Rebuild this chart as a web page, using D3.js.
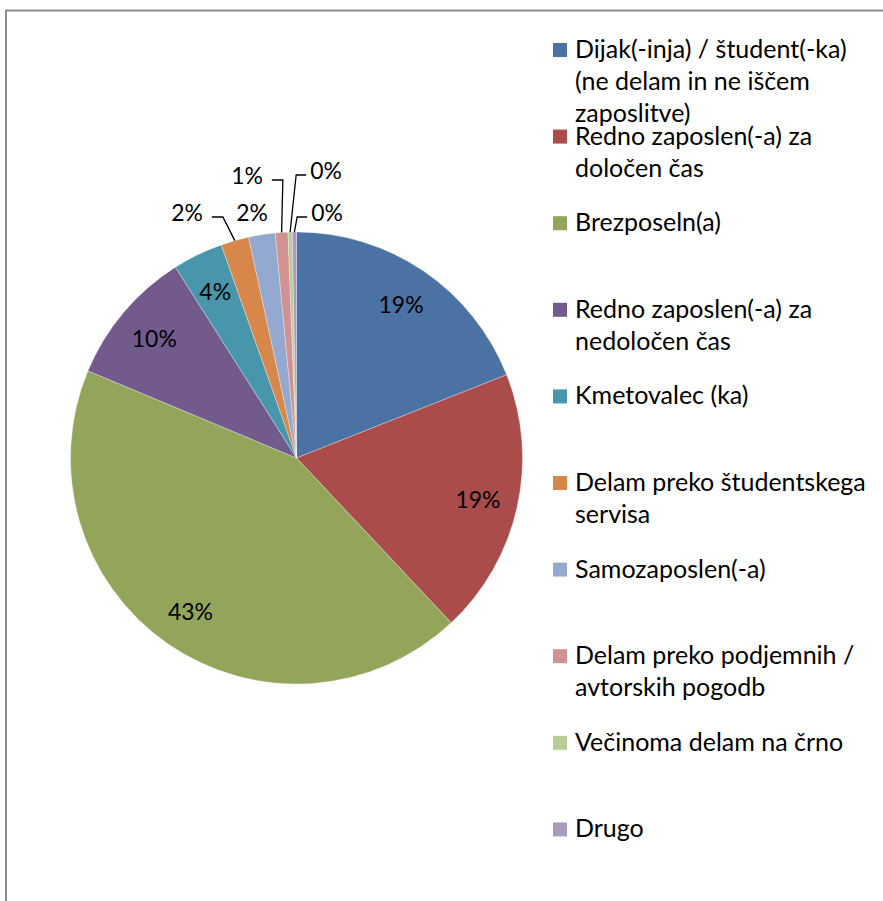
<!DOCTYPE html>
<html>
<head>
<meta charset="utf-8">
<script src="https://cdn.jsdelivr.net/npm/d3@7"></script>
<style>
  html, body { margin: 0; padding: 0; background: #fff; }
  svg { display: block; }
  text { font-family: Lato, "Open Sans", sans-serif; fill: #000; }
</style>
</head>
<body>
<svg id="chart" width="883" height="901"></svg>
<script>
// ---- data ----
const categories = [
  "Dijak(-inja) / študent(-ka) (ne delam in ne iščem zaposlitve)",
  "Redno zaposlen(-a) za določen čas",
  "Brezposeln(a)",
  "Redno zaposlen(-a) za nedoločen čas",
  "Kmetovalec (ka)",
  "Delam preko študentskega servisa",
  "Samozaposlen(-a)",
  "Delam preko podjemnih / avtorskih pogodb",
  "Večinoma delam na črno",
  "Drugo"
];
const values = [19.0, 19.0, 43.3, 9.7, 3.6, 2.0, 1.9, 0.9, 0.3, 0.3];
const colors = ["#4a72a4", "#a94c4a", "#93a55b", "#725a8d", "#4896ab",
                "#d7874a", "#93a9cf", "#d09392", "#b9cd96", "#a99bbd"];

// ---- layout ----
const W = 883, H = 901;
const cx = 296.5, cy = 458, R = 226;
const insideLabelR = 186;
// outside labels (small slices): index -> label centre, leader side
const outsideLabels = {
  5: {x: 187, y: 212, leader: "right"},
  6: {x: 252, y: 212, leader: null},
  7: {x: 247, y: 175, leader: "right"},
  8: {x: 326, y: 170, leader: "left"},
  9: {x: 327, y: 212, leader: "left"}
};
const legendX = 553, legendTop = 58, legendStep = 86.6, legendLine = 32;

const svg = d3.select("#chart");

// fit font size by width of a reference string
function fitSize(str, targetWidth) {
  const t = svg.append("text").attr("font-size", 100).text(str);
  const w = t.node().getComputedTextLength();
  t.remove();
  return 100 * targetWidth / w;
}
const legendFont = fitSize("Brezposeln(a)", 146);
const labelFont = fitSize("19%", 45);

// frame
svg.append("rect")
  .attr("x", 6).attr("y", 10.5)
  .attr("width", 900).attr("height", 900)
  .attr("fill", "none").attr("stroke", "#8c8c8c").attr("stroke-width", 2);

const total = d3.sum(values);
const pie = d3.pie().sort(null).value(d => d)(values);
const arc = d3.arc().innerRadius(0).outerRadius(R);

const g = svg.append("g").attr("transform", `translate(${cx},${cy})`);
g.selectAll("path.slice").data(pie).join("path")
  .attr("class", "slice")
  .attr("d", arc)
  .attr("fill", (d, i) => colors[i])
  .attr("stroke", "#ffffff").attr("stroke-opacity", 0.5).attr("stroke-width", 0.6);

const pct = v => Math.round(v / total * 100) + "%";

// inside labels
const labelArc = d3.arc().innerRadius(insideLabelR).outerRadius(insideLabelR);
pie.forEach((d, i) => {
  if (outsideLabels[i]) return;
  const [x, y] = labelArc.centroid(d);
  g.append("text")
    .attr("x", x).attr("y", y)
    .attr("text-anchor", "middle").attr("dominant-baseline", "central")
    .attr("font-size", labelFont)
    .text(pct(d.value));
});

// outside labels with leader lines
pie.forEach((d, i) => {
  const o = outsideLabels[i];
  if (!o) return;
  const t = svg.append("text")
    .attr("x", o.x).attr("y", o.y)
    .attr("text-anchor", "middle").attr("dominant-baseline", "central")
    .attr("font-size", labelFont)
    .text(pct(d.value));
  if (!o.leader) return;
  const tw = t.node().getComputedTextLength();
  const mid = (d.startAngle + d.endAngle) / 2;
  const ax = cx + R * Math.sin(mid), ay = cy - R * Math.cos(mid);
  const sx = o.leader === "right" ? o.x + tw / 2 + 9 : o.x - tw / 2 - 4;
  const bx = o.leader === "right" ? sx + 11 : sx - 10;
  const ly = o.y + 5;
  svg.append("path")
    .attr("d", d3.line()([[sx, ly], [bx, ly], [ax, ay]]))
    .attr("fill", "none").attr("stroke", "#000").attr("stroke-width", 1.3);
});

// legend
function wrap(str, maxW) {
  const words = str.split(" ");
  const lines = [];
  let cur = "";
  const t = svg.append("text").attr("font-size", legendFont);
  words.forEach(w => {
    const test = cur ? cur + " " + w : w;
    t.text(test);
    if (t.node().getComputedTextLength() > maxW && cur) {
      lines.push(cur);
      cur = w;
    } else cur = test;
  });
  lines.push(cur);
  t.remove();
  return lines;
}
const leg = svg.append("g");
categories.forEach((c, i) => {
  const base = legendTop + i * legendStep;
  leg.append("rect")
    .attr("x", legendX).attr("y", base - 15)
    .attr("width", 14).attr("height", 14)
    .attr("fill", colors[i]);
  const lines = wrap(c, 300);
  const t = leg.append("text")
    .attr("x", legendX + 22).attr("y", base)
    .attr("font-size", legendFont);
  lines.forEach((ln, k) => {
    t.append("tspan").attr("x", legendX + 22).attr("y", base + k * legendLine).text(ln);
  });
});
</script>
</body>
</html>
